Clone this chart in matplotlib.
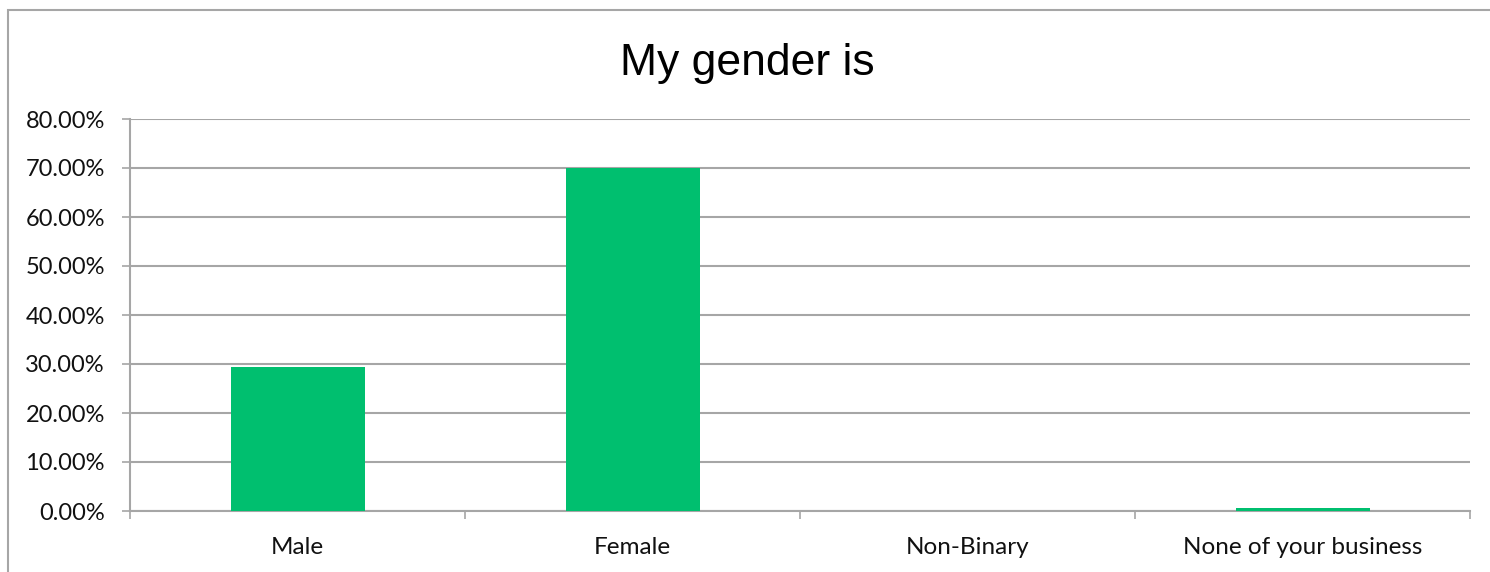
import matplotlib.pyplot as plt
import matplotlib.patches as patches
from matplotlib.ticker import FixedLocator, PercentFormatter

# ============================================================
# 数据
# ============================================================
categories = ["Male", "Female", "Non-Binary", "None of your business"]
shares = [29.33, 69.95, 0.0, 0.6]   # percent
y_ticks = [0, 10, 20, 30, 40, 50, 60, 70, 80]

BAR_COLOR = "#00bf6f"
GRID_COLOR = "#a6a6a6"
W, H = 1490, 572

fig = plt.figure(figsize=(W / 100, H / 100), dpi=100)
ax = fig.add_axes([130 / W, 1 - 511 / H, 1340 / W, 392 / H])

x = [i + 0.5 for i in range(len(categories))]
ax.bar(x, shares, width=0.4, color=BAR_COLOR, zorder=3)

ax.set_xlim(0, len(categories))
ax.set_ylim(0, 80)
ax.set_yticks(y_ticks)
ax.yaxis.set_major_formatter(PercentFormatter(decimals=2))
ax.grid(axis="y", color=GRID_COLOR, linewidth=1.5, zorder=0)

# 类别边界处的刻度线，标签放在次刻度
ax.xaxis.set_major_locator(FixedLocator(range(len(categories) + 1)))
ax.set_xticklabels([])
ax.xaxis.set_minor_locator(FixedLocator(x))
ax.set_xticklabels(categories, minor=True)
ax.tick_params(axis="x", which="major", length=6, width=1.2, color=GRID_COLOR)
ax.tick_params(axis="x", which="minor", length=0, pad=18.5, labelsize=17.5)
ax.tick_params(axis="y", length=6, width=1.2, color=GRID_COLOR, pad=12, labelsize=17)
for lab in ax.get_xticklabels(minor=True) + ax.get_yticklabels():
    lab.set_fontfamily("Lato")
    lab.set_color("#111111")

for side in ["top", "right"]:
    ax.spines[side].set_visible(False)
for side in ["left", "bottom"]:
    ax.spines[side].set_color(GRID_COLOR)
    ax.spines[side].set_linewidth(1.5)

fig.text(747 / W, 1 - 63 / H, "My gender is", ha="center", va="center",
         fontsize=32, family="Liberation Sans")

# 外框（右下被裁掉）
frame = patches.Rectangle((8 / W, -0.1), 1.2, 1 - 10 / H + 0.1,
                          transform=fig.transFigure, fill=False,
                          edgecolor=GRID_COLOR, linewidth=1.5)
fig.patches.append(frame)

fig.savefig("out.png", dpi=100)
